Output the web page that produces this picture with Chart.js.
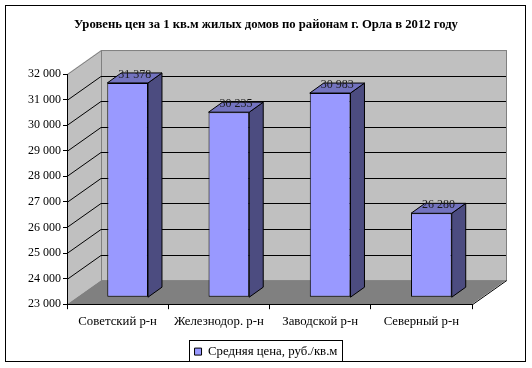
<!DOCTYPE html>
<html><head><meta charset="utf-8">
<script src="https://cdn.jsdelivr.net/npm/chart.js@4/dist/chart.umd.min.js"></script>
<style>html,body{margin:0;padding:0;background:#fff}#wrap{width:532px;height:368px;position:relative}</style>
</head><body><div id="wrap"><canvas id="c"></canvas></div>
<script>
const chartTitle = 'Уровень цен за 1 кв.м жилых домов по районам г. Орла в 2012 году';
const categories = ['Советский р-н', 'Железнодор. р-н', 'Заводской р-н', 'Северный р-н'];
const seriesName = 'Средняя цена, руб./кв.м';
const prices = [31378, 30235, 30983, 26280];
const yMin = 23000, yMax = 32000, yStep = 1000;

const FONT = "'Liberation Serif','Times New Roman',serif";
const WALL = {x: 34, y: -24};
const BAR_OFF = {x: 10, y: -7};
const BAR_D = {x: 14, y: -10};
const fmt = v => String(Math.round(v)).replace(/\B(?=(\d{3})+(?!\d))/g, ' ');

const pseudo3d = {
  id: 'pseudo3d',
  beforeDraw(chart) {
    const ctx = chart.ctx, a = chart.chartArea, ys = chart.scales.y;
    ctx.save();
    ctx.fillStyle = '#fff';
    ctx.fillRect(0, 0, chart.width, chart.height);
    ctx.strokeStyle = '#000'; ctx.lineWidth = 1;
    ctx.strokeRect(5.5, 5.5, 520, 356);
    const L = a.left, R = a.right, T = a.top, B = a.bottom;
    ctx.fillStyle = '#c0c0c0';
    ctx.fillRect(L + WALL.x, T + WALL.y, R - L, B - T);
    ctx.beginPath();
    ctx.moveTo(L, T); ctx.lineTo(L + WALL.x, T + WALL.y); ctx.lineTo(L + WALL.x, B + WALL.y); ctx.lineTo(L, B); ctx.closePath();
    ctx.fill();
    ctx.fillStyle = '#808080';
    ctx.beginPath();
    ctx.moveTo(L, B); ctx.lineTo(L + WALL.x, B + WALL.y); ctx.lineTo(R + WALL.x, B + WALL.y); ctx.lineTo(R, B); ctx.closePath();
    ctx.fill();
    ctx.strokeStyle = '#808080';
    ctx.strokeRect(L + WALL.x + 0.5, T + WALL.y + 0.5, R - L, B - T);
    ctx.beginPath();
    ctx.moveTo(L + 0.5, T + 0.5); ctx.lineTo(L + WALL.x + 0.5, T + WALL.y + 0.5);
    ctx.stroke();
    ctx.strokeStyle = '#000';
    for (let v = yMin + yStep; v < yMax; v += yStep) {
      const y = Math.round(ys.getPixelForValue(v)) + 0.5;
      ctx.beginPath();
      ctx.moveTo(L, y); ctx.lineTo(L + WALL.x, y + WALL.y); ctx.lineTo(R + WALL.x, y + WALL.y);
      ctx.stroke();
    }
    ctx.beginPath();
    ctx.moveTo(R + 0.5, B + 0.5); ctx.lineTo(R + WALL.x + 0.5, B + WALL.y + 0.5);
    ctx.stroke();
    ctx.restore();
  },
  beforeDatasetsDraw(chart) {
    chart.ctx.save();
    chart.ctx.translate(BAR_OFF.x, BAR_OFF.y);
  },
  afterDatasetsDraw(chart) {
    const ctx = chart.ctx;
    const meta = chart.getDatasetMeta(0);
    const yb = chart.scales.y.getPixelForValue(yMin);
    ctx.lineWidth = 1; ctx.strokeStyle = '#000'; ctx.lineJoin = 'miter';
    meta.data.forEach((bar) => {
      const p = bar.getProps(['x', 'y', 'width'], true);
      const xl = p.x - p.width / 2, xr = p.x + p.width / 2, yt = p.y;
      ctx.fillStyle = '#4c4c80';
      ctx.beginPath();
      ctx.moveTo(xr, yt); ctx.lineTo(xr + BAR_D.x, yt + BAR_D.y); ctx.lineTo(xr + BAR_D.x, yb + BAR_D.y); ctx.lineTo(xr, yb); ctx.closePath();
      ctx.fill(); ctx.stroke();
      ctx.fillStyle = '#7373bf';
      ctx.beginPath();
      ctx.moveTo(xl, yt); ctx.lineTo(xl + BAR_D.x, yt + BAR_D.y); ctx.lineTo(xr + BAR_D.x, yt + BAR_D.y); ctx.lineTo(xr, yt); ctx.closePath();
      ctx.fill(); ctx.stroke();
    });
    ctx.font = '12px ' + FONT;
    ctx.fillStyle = '#1a1a1a';
    ctx.textAlign = 'center'; ctx.textBaseline = 'middle';
    meta.data.forEach((bar, i) => {
      const p = bar.getProps(['x', 'y'], true);
      ctx.fillText(fmt(prices[i]), p.x + 7, p.y - 8);
    });
    ctx.restore();
  },
  afterDraw(chart) {
    const lg = chart.legend;
    if (!lg || !lg.legendHitBoxes || !lg.legendHitBoxes.length) return;
    const hb = lg.legendHitBoxes[0];
    const ctx = chart.ctx;
    ctx.save();
    ctx.strokeStyle = '#000'; ctx.lineWidth = 1;
    ctx.strokeRect(Math.round(hb.left) - 5.5, Math.round(hb.top) - 4.5, Math.round(hb.width) + 10, 21);
    ctx.restore();
  }
};

new Chart(document.getElementById('c'), {
  type: 'bar',
  data: {
    labels: categories,
    datasets: [{
      label: seriesName,
      data: prices,
      base: yMin,
      clip: false,
      backgroundColor: '#9999ff',
      borderColor: '#000',
      borderWidth: 1,
      borderSkipped: false,
      categoryPercentage: 1,
      barPercentage: 0.402
    }]
  },
  options: {
    responsive: true,
    maintainAspectRatio: false,
    animation: false,
    events: [],
    layout: {padding: 0},
    plugins: {
      title: {
        display: true, text: chartTitle, color: '#000',
        font: {family: FONT, size: 12.7, weight: 'bold'},
        padding: {top: 16.8, bottom: 42}
      },
      legend: {
        position: 'bottom',
        labels: {boxWidth: 7, boxHeight: 7, padding: 4, color: '#000', font: {family: FONT, size: 12.8}}
      },
      tooltip: {enabled: false}
    },
    scales: {
      x: {
        offset: true,
        grid: {offset: true, drawOnChartArea: false, tickLength: 5, color: '#000'},
        border: {color: '#000'},
        ticks: {color: '#000', font: {family: FONT, size: 12.8}, padding: 5, maxRotation: 0, autoSkip: false},
        afterFit: s => { s.height = 37; }
      },
      y: {
        min: yMin, max: yMax,
        grid: {drawOnChartArea: false, tickLength: 4, color: '#000'},
        border: {color: '#000'},
        ticks: {stepSize: yStep, color: '#000', font: {family: FONT, size: 12}, padding: 2, callback: v => fmt(v)},
        afterFit: s => { s.width = 67; }
      },
      yRightSpace: {
        position: 'right',
        display: true,
        min: yMin, max: yMax,
        grid: {display: false, drawTicks: false},
        border: {display: false},
        ticks: {display: false},
        afterFit: s => { s.width = 60; }
      }
    }
  },
  plugins: [pseudo3d]
});
</script></body></html>
